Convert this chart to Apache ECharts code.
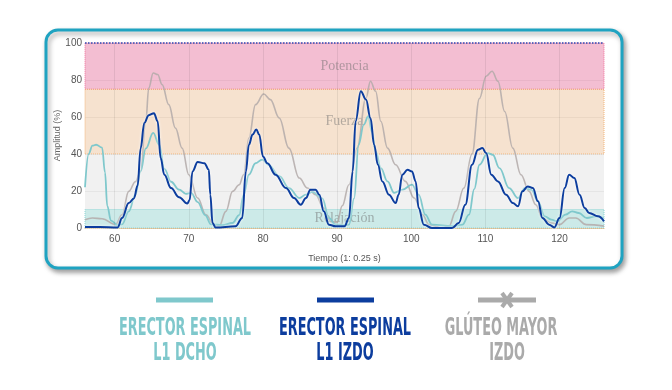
<!DOCTYPE html>
<html>
<head>
<meta charset="utf-8">
<script src="https://cdn.jsdelivr.net/npm/echarts@6/dist/echarts.min.js"></script>
<style>
html,body{margin:0;padding:0;background:#fff;}
#c{width:672px;height:390px;}
</style>
</head>
<body>
<div id="c"></div>
<script>
// ---- data ----
var xTicks = [60, 70, 80, 90, 100, 110, 120];
var yTicks = [0, 20, 40, 60, 80, 100];
var bandNames = ['Potencia', 'Fuerza', 'Relajación'];

var dchoT = [56, 56.5, 57, 57.5, 58.3, 58.7, 59.0, 59.5, 60.4, 61.0, 61.9, 62.8, 63.5, 64.2, 65.2, 66.0, 66.7, 67.6, 68.7, 69.6, 70.3, 71.2, 72.2, 73.0, 74.5, 75.9, 76.8, 77.4, 78.1, 79.0, 79.9, 80.8, 82.2, 83.5, 84.9, 85.8, 86.7, 88.0, 88.9, 89.8, 91.0, 91.6, 92.3, 92.9, 93.6, 94.2, 94.7, 95.2, 95.9, 96.8, 97.7, 98.8, 100.1, 101.0, 101.9, 102.8, 105.5, 106.9, 107.8, 108.5, 109.2, 110.3, 111.0, 111.9, 113.2, 114.4, 115.3, 116.2, 117.1, 118.0, 118.9, 119.7, 120.8, 121.7, 122.6, 123.7, 124.9, 126];
var dchoV = [22, 40, 44.5, 45, 43.5, 30, 12, 4, 1.5, 2, 9, 18, 30.6, 43, 51.4, 45, 32, 25, 20.7, 18.5, 19, 14, 7, 2, 1.5, 2.7, 7, 18, 28.8, 35, 37, 34, 28, 21.6, 16.2, 18, 19.5, 16, 5.4, 1.8, 1.5, 1.8, 16, 45, 55.9, 60.4, 52, 41.4, 32.4, 25.2, 19, 20.7, 23.4, 18, 7.2, 1.8, 1, 1.8, 7.2, 21, 34.2, 40.5, 39.6, 32.4, 21.6, 16.2, 21.6, 20.7, 14.4, 6.3, 4.5, 3.6, 7.2, 9, 8.1, 5.4, 6.3, 5.4];

var izdoT = [56, 58, 60.4, 61.0, 61.9, 62.6, 63.1, 63.5, 64.0, 64.6, 65.3, 65.8, 66.2, 66.7, 67.6, 68.7, 69.8, 70.1, 70.5, 71.2, 72.1, 72.7, 72.9, 73.2, 73.6, 76.3, 77.2, 77.7, 78.1, 78.6, 79.1, 79.5, 80.0, 80.6, 81.7, 83.1, 84.2, 85.1, 85.8, 86.4, 87.1, 87.6, 88.2, 88.9, 89.8, 91.0, 91.6, 92.1, 92.5, 93.2, 93.9, 94.5, 95.0, 95.5, 96.1, 97.0, 97.9, 98.3, 98.8, 99.5, 100.1, 100.6, 101.0, 101.7, 102.8, 105.5, 106.4, 107.3, 108.2, 109.0, 109.6, 110.1, 110.8, 111.7, 112.8, 113.7, 114.4, 115.0, 115.7, 116.4, 117.1, 117.7, 118.6, 119.3, 120.0, 120.7, 121.3, 122.0, 122.7, 123.4, 124.0, 125.2, 126];
var izdoV = [0.5, 0.5, 0.3, 5.4, 13.5, 16, 23, 43, 56.8, 61, 62, 57.7, 37.8, 28.8, 21.6, 16.6, 13.2, 15, 30.6, 35.7, 35, 31.5, 18, 2.7, 0.3, 0.9, 5.4, 30.6, 45, 50.5, 53.2, 50.5, 38.7, 35, 28.8, 21.6, 16.2, 12.6, 16.2, 20.7, 20.7, 18, 9, 1.8, 0.9, 1, 5.4, 30.6, 57.7, 73.9, 69.4, 59.5, 45, 34.2, 25.2, 18, 13.5, 18, 28.8, 31.5, 30.6, 25.2, 10.8, 1.8, 0, 0, 2.7, 12.6, 34.2, 42.3, 43.2, 40.5, 28.8, 25.2, 18, 13.5, 11.7, 19.8, 22.5, 21.6, 14.4, 5.4, 1.8, 0.3, 5.4, 21.6, 28.8, 27, 18, 10.8, 8.1, 6.3, 3.6];

var gluteoT = [56, 57, 58.3, 60.1, 61.0, 61.9, 62.8, 63.5, 64.2, 64.6, 65.2, 65.8, 66.4, 67.3, 68.2, 69.1, 70.0, 71.2, 72.3, 73.4, 74.1, 75.0, 75.9, 76.8, 77.4, 78.1, 79.0, 80.1, 81.0, 82.2, 83.5, 84.9, 86.0, 87.1, 88.2, 89.1, 90.0, 90.7, 91.6, 92.7, 93.9, 94.5, 95.2, 95.9, 96.8, 97.9, 99.2, 100.4, 101.5, 102.4, 104.2, 105.1, 106.0, 107.1, 108.2, 109.2, 110.1, 110.9, 111.7, 112.6, 113.7, 114.8, 115.9, 116.8, 117.7, 118.9, 120.0, 121.3, 122.2, 123.6, 126];
var gluteoV = [4.5, 5.4, 5, 1.8, 7.2, 19.8, 25, 30.6, 57.7, 75.7, 83.8, 83, 77.5, 66.7, 54, 43.2, 28.8, 16.2, 7.2, 1.8, 1, 9, 19.8, 23.4, 28.8, 48.6, 66.7, 72.4, 69.4, 59.5, 43.2, 27, 21.6, 18, 10.8, 3.6, 3, 12, 23.4, 43.2, 70.3, 79.3, 73.9, 57.7, 43.2, 34.2, 25.2, 16.2, 7.2, 1.8, 0, 1, 9, 21.6, 40, 70, 82, 84.7, 79.3, 63, 43.2, 28.8, 19.8, 12.6, 5.4, 2.7, 1.8, 5.4, 5.4, 1.8, 1];

function pairs(t, v) { return t.map(function (x, i) { return [x, v[i]]; }); }

var TEAL = '#7fc8cc', BLUE = '#0c3d9e', GRAY = '#b3aaa9', LGRAY = '#aaaaaa';
var LEG_FONT = '"Liberation Sans Narrow", "DejaVu Sans Condensed", "Roboto", sans-serif';
var AX_FONT = '"Liberation Sans", Arial, sans-serif';
var GRIDC = 'rgba(0,0,0,0.07)';

function legendText(txt, cx, y, color) {
  return {
    type: 'group', x: cx, y: y, scaleX: 0.84, scaleY: 1.48, z: 10,
    children: [{ type: 'text', style: { text: txt, x: 0, y: 0, align: 'center', verticalAlign: 'top',
      fill: color, font: 'bold 17px ' + LEG_FONT } }]
  };
}

var markLines = xTicks.map(function (v) {
  return { xAxis: v, lineStyle: { color: GRIDC, type: 'solid', width: 1 } };
});
markLines.push({ yAxis: yTicks[yTicks.length - 1], lineStyle: { color: '#2c4fb8', type: 'dotted', width: 1.5 } });

var chart = echarts.init(document.getElementById('c'), null, { renderer: 'canvas' });
chart.setOption({
  animation: false,
  backgroundColor: '#fff',
  graphic: [
    { type: 'rect', z: -10, shape: { x: 46, y: 30, width: 576, height: 238, r: 12 },
      style: { fill: '#fff', stroke: '#1fa3c1', lineWidth: 3, shadowBlur: 5, shadowOffsetX: 2, shadowOffsetY: 3, shadowColor: 'rgba(0,0,0,0.35)' } },
    { type: 'line', shape: { x1: 156, y1: 300, x2: 213, y2: 300 }, style: { stroke: TEAL, lineWidth: 5 } },
    { type: 'line', shape: { x1: 317, y1: 300, x2: 374, y2: 300 }, style: { stroke: BLUE, lineWidth: 5 } },
    { type: 'line', shape: { x1: 478, y1: 300, x2: 536, y2: 300 }, style: { stroke: LGRAY, lineWidth: 5 } },
    { type: 'line', shape: { x1: 502, y1: 293, x2: 512, y2: 307 }, style: { stroke: LGRAY, lineWidth: 4 } },
    { type: 'line', shape: { x1: 512, y1: 293, x2: 502, y2: 307 }, style: { stroke: LGRAY, lineWidth: 4 } },
    legendText('ERECTOR ESPINAL', 185, 316, TEAL),
    legendText('L1 DCHO', 185, 341, TEAL),
    legendText('ERECTOR ESPINAL', 345, 316, BLUE),
    legendText('L1 IZDO', 345, 341, BLUE),
    legendText('GLÚTEO MAYOR', 501, 316, LGRAY),
    legendText('IZDO', 507, 341, LGRAY)
  ],
  grid: { left: 85, right: 68, top: 43, bottom: 162 },
  xAxis: {
    type: 'value', min: 56, max: 126,
    name: 'Tiempo (1: 0.25 s)', nameLocation: 'middle', nameGap: 26,
    nameTextStyle: { fontSize: 9, color: '#555', fontFamily: AX_FONT },
    axisLine: { show: true, lineStyle: { color: '#f0b070', type: 'dotted' } },
    axisTick: { show: false, customValues: xTicks },
    axisLabel: { color: '#555', fontSize: 10, margin: 6, fontFamily: AX_FONT, customValues: xTicks },
    splitLine: { show: false }
  },
  yAxis: {
    type: 'value', min: 0, max: 100, interval: 20,
    name: 'Amplitud (%)', nameLocation: 'middle', nameGap: 23, nameMoveOverlap: false,
    nameTextStyle: { fontSize: 9, color: '#666', fontFamily: AX_FONT },
    axisLine: { show: false }, axisTick: { show: false },
    axisLabel: { color: '#555', fontSize: 10, margin: 3, fontFamily: AX_FONT },
    splitLine: { show: true, lineStyle: { color: GRIDC } }
  },
  series: [
    {
      type: 'line', data: [], z: 1, silent: true,
      markArea: {
        silent: true,
        label: { position: 'inside', fontFamily: 'Liberation Serif, DejaVu Serif, serif', fontSize: 14, color: 'rgba(110,110,110,0.5)' },
        data: [
          [{ name: bandNames[0], yAxis: 75, itemStyle: { color: 'rgba(228,110,155,0.45)', borderColor: '#f0709a', borderWidth: 1, borderType: 'dotted' } }, { yAxis: 100 }],
          [{ name: bandNames[1], yAxis: 40, itemStyle: { color: 'rgba(232,178,128,0.38)', borderColor: '#f2b57a', borderWidth: 1, borderType: 'dotted' } }, { yAxis: 75 }],
          [{ name: '', yAxis: 10, itemStyle: { color: 'rgba(215,215,215,0.35)', borderWidth: 0 } }, { yAxis: 40 }],
          [{ name: bandNames[2], yAxis: 0, itemStyle: { color: 'rgba(120,200,195,0.38)', borderColor: '#8fd4d4', borderWidth: 1, borderType: 'dotted' } }, { yAxis: 10 }]
        ]
      },
      markLine: {
        silent: true, symbol: 'none', label: { show: false },
        data: markLines
      }
    },
    { name: 'Glúteo mayor izdo', type: 'line', z: 3, data: pairs(gluteoT, gluteoV), smooth: 0.4, smoothMonotone: 'x', showSymbol: false,
      lineStyle: { color: GRAY, width: 1.6, opacity: 0.85 } },
    { name: 'Erector espinal L1 dcho', type: 'line', z: 4, data: pairs(dchoT, dchoV), smooth: 0.4, smoothMonotone: 'x', showSymbol: false,
      lineStyle: { color: TEAL, width: 1.8 } },
    { name: 'Erector espinal L1 izdo', type: 'line', z: 5, data: pairs(izdoT, izdoV), smooth: 0.4, smoothMonotone: 'x', showSymbol: false,
      lineStyle: { color: BLUE, width: 2, shadowColor: 'rgba(255,255,255,0.95)', shadowBlur: 3 } }
  ]
});
</script>
</body>
</html>
